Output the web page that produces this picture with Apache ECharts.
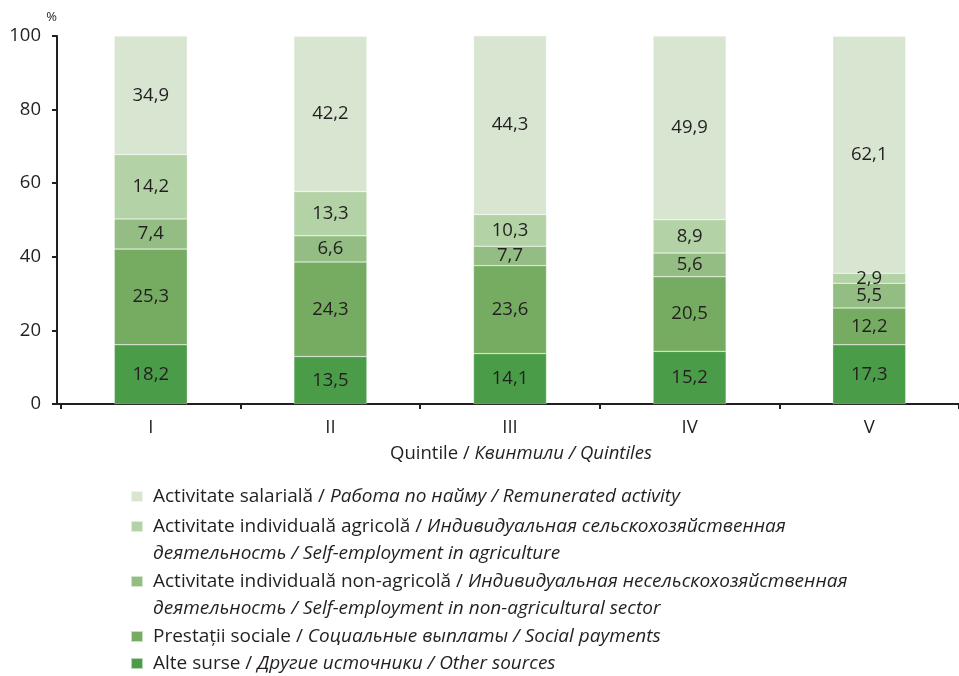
<!DOCTYPE html>
<html>
<head>
<meta charset="utf-8">
<script src="https://cdn.jsdelivr.net/npm/echarts@6/dist/echarts.min.js"></script>
<style>
  html, body { margin: 0; padding: 0; background: #fff; }
  #chart { width: 959px; height: 676px; }
</style>
</head>
<body>
<div id="chart"></div>
<script>
const categories = ["I", "II", "III", "IV", "V"];
// segment heights as drawn in the picture
const alteSurse = [16.1, 12.9, 13.7, 14.3, 16.1];
const prestatiiSociale = [26.0, 25.7, 23.9, 20.3, 10.0];
const nonAgricola = [8.2, 7.1, 5.3, 6.4, 6.7];
const agricola = [17.5, 12.0, 8.6, 9.1, 2.7];
const salariala = [32.2, 42.2, 48.6, 49.9, 64.4];
// numbers printed on the segments
const alteSurseLabels = ["18,2", "13,5", "14,1", "15,2", "17,3"];
const prestatiiSocialeLabels = ["25,3", "24,3", "23,6", "20,5", "12,2"];
const nonAgricolaLabels = ["7,4", "6,6", "7,7", "5,6", "5,5"];
const agricolaLabels = ["14,2", "13,3", "10,3", "8,9", "2,9"];
const salarialaLabels = ["34,9", "42,2", "44,3", "49,9", "62,1"];
const yTicks = [0, 20, 40, 60, 80, 100];

const font = "'Open Sans', sans-serif";
const fs = 18.5;
const legendFs = 19;
const ink = "#231f20";
const lh = 27;

const seriesDefs = [
  { name: "Alte surse", data: alteSurse, labels: alteSurseLabels, color: "#4b9c48",
    legend: "Alte surse / {i|Другие источники / Other sources}", lines: 1, top: 650 },
  { name: "Prestații sociale", data: prestatiiSociale, labels: prestatiiSocialeLabels, color: "#75ac61",
    legend: "Prestații sociale / {i|Социальные выплаты / Social payments}", lines: 1, top: 623 },
  { name: "Activitate individuală non-agricolă", data: nonAgricola, labels: nonAgricolaLabels, color: "#94bd83",
    legend: "Activitate individuală non-agricolă / {i|Индивидуальная несельскохозяйственная}\n{i|деятельность / Self-employment in non-agricultural sector}", lines: 2, top: 541 },
  { name: "Activitate individuală agricolă", data: agricola, labels: agricolaLabels, color: "#b3d2a6",
    legend: "Activitate individuală agricolă / {i|Индивидуальная сельскохозяйственная}\n{i|деятельность / Self-employment in agriculture}", lines: 2, top: 486 },
  { name: "Activitate salarială", data: salariala, labels: salarialaLabels, color: "#d8e5d1",
    legend: "Activitate salarială / {i|Работа по найму / Remunerated activity}", lines: 1, top: 483 }
];

const chart = echarts.init(document.getElementById("chart"));

const legends = seriesDefs.map((s) => ({
  data: [s.name],
  left: 130,
  top: s.top,
  padding: 0,
  itemWidth: 12,
  itemHeight: 11,
  icon: "rect",
  selectedMode: false,
  formatter: () => s.legend,
  textStyle: {
    fontFamily: font,
    fontSize: legendFs,
    color: ink,
    lineHeight: lh,
    padding: s.lines === 2 ? [lh, 0, 0, 5] : [0, 0, 0, 5],
    rich: {
      i: { fontFamily: font, fontSize: legendFs, fontStyle: "italic", color: ink, lineHeight: lh }
    }
  }
}));

chart.setOption({
  animation: false,
  grid: { left: 61, width: 911, top: 36, height: 368 },
  legend: legends,
  xAxis: {
    type: "category",
    data: categories,
    name: "Quintile / {i|Квинтили / Quintiles}",
    nameLocation: "middle",
    nameGap: 40,
    nameTextStyle: {
      fontFamily: font, fontSize: fs, color: ink, padding: [0, 0, 0, 22],
      rich: { i: { fontFamily: font, fontSize: fs, fontStyle: "italic", color: ink } }
    },
    axisLine: {
      lineStyle: { color: ink, width: 2 },
      symbol: ["rect", "none"],
      symbolSize: [2, 4],
      symbolOffset: [-2, 0]
    },
    axisTick: { show: true, length: 5, lineStyle: { color: ink, width: 2 } },
    axisLabel: { fontFamily: font, fontSize: fs, color: ink, margin: 14 }
  },
  yAxis: {
    type: "value",
    offset: 4,
    min: yTicks[0],
    max: yTicks[yTicks.length - 1],
    interval: 20,
    name: "%",
    nameLocation: "end",
    nameGap: 12,
    nameTextStyle: { fontFamily: font, fontSize: 13, color: ink, align: "right" },
    axisLine: { show: true, lineStyle: { color: ink, width: 2 } },
    axisTick: { show: true, length: 5, lineStyle: { color: ink, width: 2 } },
    splitLine: { show: false },
    axisLabel: { fontFamily: font, fontSize: fs, color: ink, margin: 16 }
  },
  series: seriesDefs.map((s) => ({
    name: s.name,
    type: "bar",
    stack: "total",
    barWidth: 73,
    data: s.data,
    itemStyle: { color: s.color, borderColor: "rgba(255,255,255,0.6)", borderWidth: 0.5 },
    label: {
      show: true,
      position: "inside",
      fontFamily: font,
      fontSize: fs,
      color: ink,
      formatter: (p) => s.labels[p.dataIndex]
    }
  }))
});
</script>
</body>
</html>
